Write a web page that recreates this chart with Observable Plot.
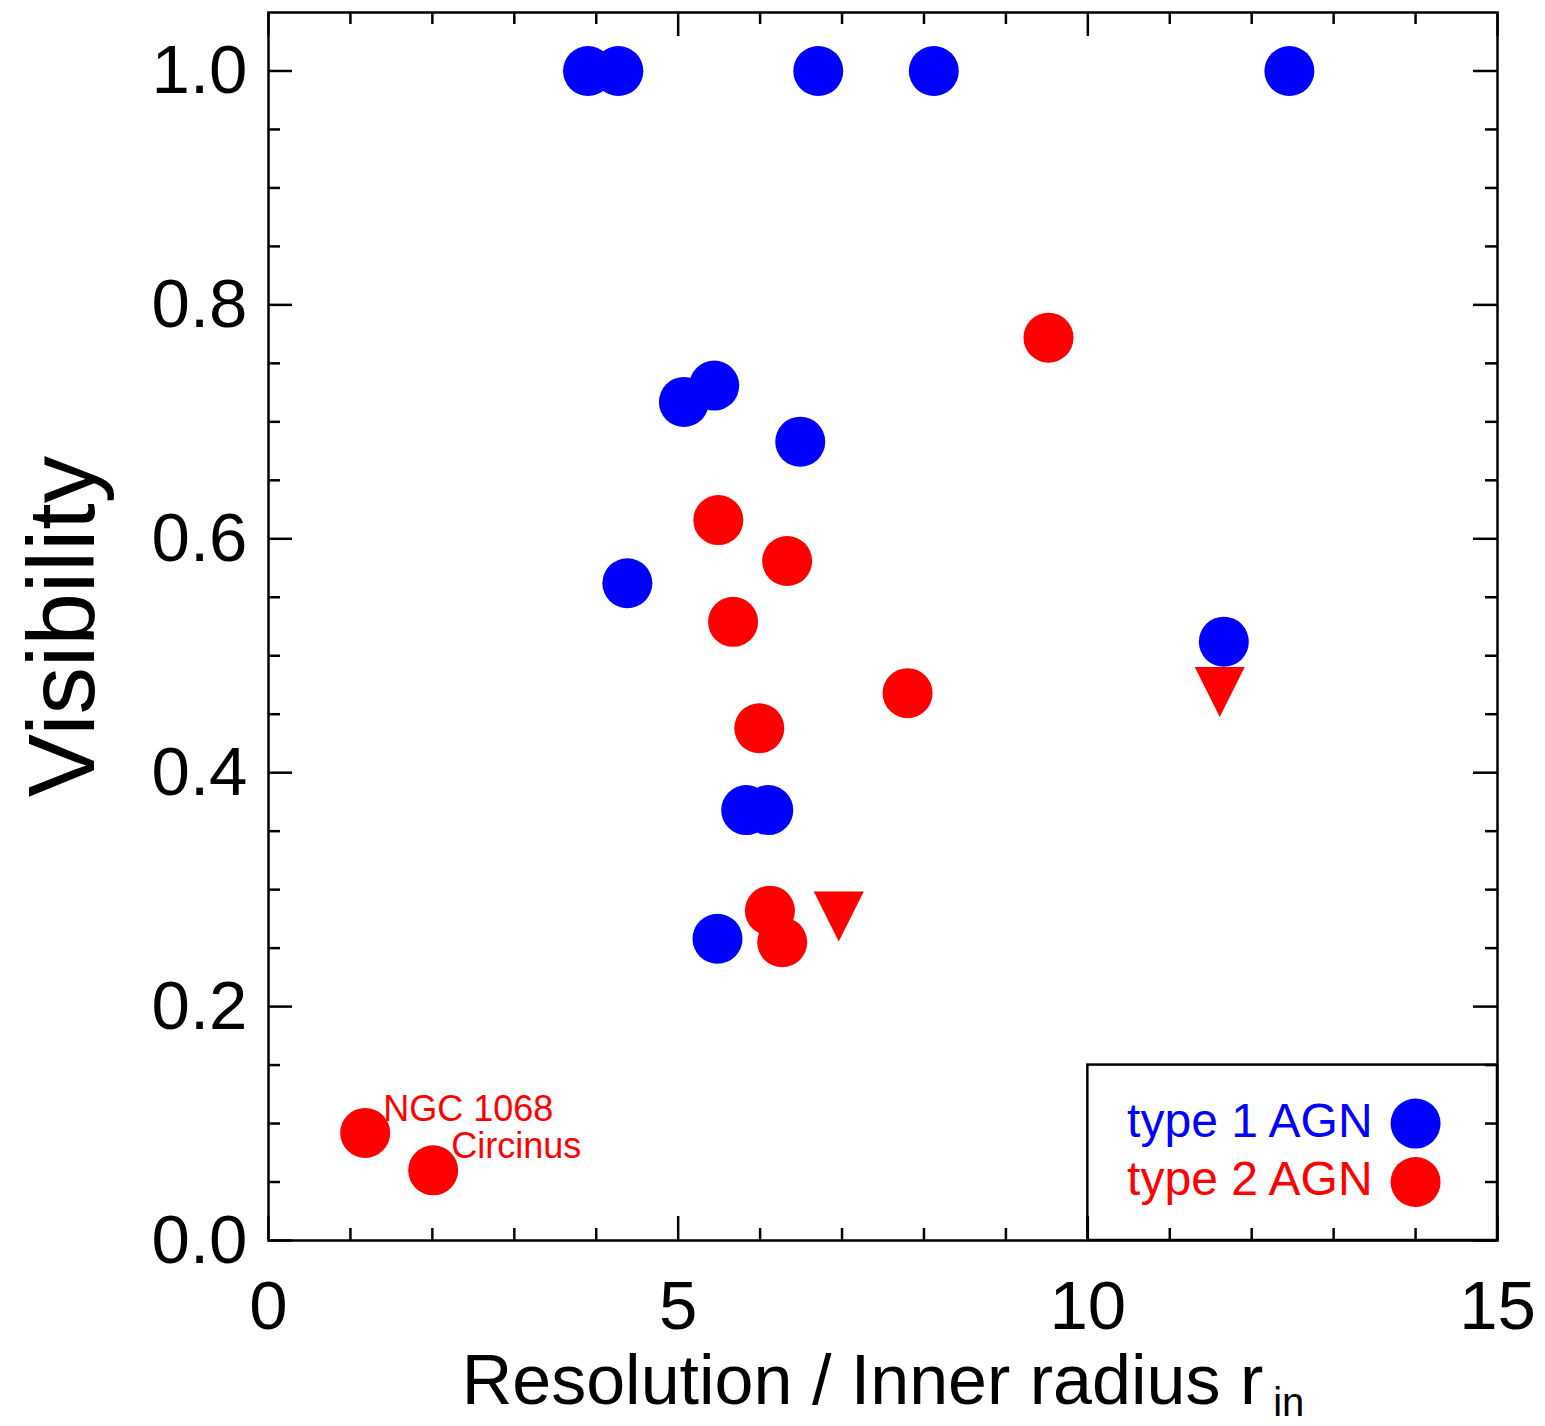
<!DOCTYPE html>
<html>
<head>
<meta charset="utf-8">
<script src="https://cdn.jsdelivr.net/npm/d3@7"></script>
<script src="https://cdn.jsdelivr.net/npm/@observablehq/plot@0.6"></script>
<style>
  html, body { margin: 0; padding: 0; background: #fff; }
</style>
</head>
<body>
<div id="chart"></div>
<script>
// ---- data ----
const type1X = [3.90, 4.27, 6.71, 8.12, 12.46, 5.44, 5.07, 6.49, 4.38, 11.66, 5.83, 6.10, 5.48];
const type1Y = [1.0, 1.0, 1.0, 1.0, 1.0, 0.731, 0.717, 0.683, 0.562, 0.512, 0.368, 0.368, 0.258];

const type2X = [9.52, 5.49, 6.33, 5.67, 7.80, 5.99, 6.12, 6.27, 1.18, 2.01];
const type2Y = [0.772, 0.616, 0.581, 0.529, 0.468, 0.438, 0.282, 0.255, 0.092, 0.060];
const type2Names = ["", "", "", "", "", "", "", "", "NGC 1068", "Circinus"];

// upper limits (type 2)
const limitX = [6.96, 11.61];
const limitY = [0.277, 0.469];

const xMajor = [0, 5, 10, 15];
const xMinor = [1, 2, 3, 4, 6, 7, 8, 9, 11, 12, 13, 14];
const yMajor = [0, 0.2, 0.4, 0.6, 0.8, 1.0];
const yMinor = [0.05, 0.1, 0.15, 0.25, 0.3, 0.35, 0.45, 0.5, 0.55, 0.65, 0.7, 0.75, 0.85, 0.9, 0.95];

const legendLabels = ["type 1 AGN", "type 2 AGN"];
const legendColors = ["#0000ff", "#ff0000"];
const legendY = [0.10, 0.05];
const legendX = 14;
const legendBox = {x1: 10, x2: 15, y1: 0, y2: 0.15};

const xTitle = "Resolution / Inner radius r";
const xTitleSub = "in";
const yTitle = "Visibility";

// ---- layout ----
const width = 1545, height = 1426;
const mL = 268, mR = 48, mT = 12, mB = 186;
const W = width - mL - mR, H = height - mT - mB;
const majorLen = 24, minorLen = 12, lw = 2.5;

const t1 = type1X.map((x, i) => ({x, y: type1Y[i]}));
const t2 = type2X.map((x, i) => ({x, y: type2Y[i], name: type2Names[i]}));
const lim = limitX.map((x, i) => ({x, y: limitY[i]}));
const leg = legendLabels.map((label, i) => ({label, color: legendColors[i], y: legendY[i], x: legendX}));

const downTriangle = {
  draw(context, size) {
    const r = Math.sqrt(size / Math.PI);
    context.moveTo(-r, -r);
    context.lineTo(r, -r);
    context.lineTo(0, r);
    context.closePath();
  }
};

const tickMarks = [
  // bottom
  Plot.ruleX(xMajor, {x: d => d, insetTop: H - majorLen, strokeWidth: lw}),
  Plot.ruleX(xMinor, {x: d => d, insetTop: H - minorLen, strokeWidth: lw}),
  // top
  Plot.ruleX(xMajor, {x: d => d, insetBottom: H - majorLen, strokeWidth: lw}),
  Plot.ruleX(xMinor, {x: d => d, insetBottom: H - minorLen, strokeWidth: lw}),
  // left
  Plot.ruleY(yMajor, {y: d => d, insetRight: W - majorLen, strokeWidth: lw}),
  Plot.ruleY(yMinor, {y: d => d, insetRight: W - minorLen, strokeWidth: lw}),
  // right
  Plot.ruleY(yMajor, {y: d => d, insetLeft: W - majorLen, strokeWidth: lw}),
  Plot.ruleY(yMinor, {y: d => d, insetLeft: W - minorLen, strokeWidth: lw})
];

const chart = Plot.plot({
  width, height,
  marginLeft: mL, marginRight: mR, marginTop: mT, marginBottom: mB,
  style: {fontFamily: "'Liberation Sans', Arial, Helvetica, sans-serif", fontSize: "69px", background: "#fff", color: "#000"},
  x: {domain: [0, 15], ticks: xMajor, tickSize: 0, tickPadding: 39, tickFormat: d => String(d), label: null},
  y: {domain: [0, 1.05], ticks: yMajor, tickSize: 0, tickPadding: 21, tickFormat: d3.format(".1f"), label: null},
  marks: [
    ...tickMarks,
    Plot.frame({stroke: "#000", strokeWidth: lw}),
    Plot.rect([legendBox], {x1: "x1", x2: "x2", y1: "y1", y2: "y2", fill: "none", stroke: "#000", strokeWidth: lw}),
    Plot.dot(t1, {x: "x", y: "y", r: 25, fill: "#0000ff", stroke: "none"}),
    Plot.dot(t2, {x: "x", y: "y", r: 25, fill: "#ff0000", stroke: "none"}),
    Plot.dot(lim, {x: "x", y: "y", r: 25, symbol: downTriangle, fill: "#ff0000", stroke: "none"}),
    Plot.text(t2.filter(d => d.name), {x: "x", y: "y", text: "name", fill: "#ff0000", fontSize: 36, textAnchor: "start", lineAnchor: "bottom", dx: 18, dy: -12}),
    // legend
    Plot.dot(leg, {x: "x", y: "y", r: 25, fill: "color", stroke: "none"}),
    Plot.text(leg, {x: "x", y: "y", text: "label", fill: "color", fontSize: 48, textAnchor: "end", lineAnchor: "bottom", dx: -43, dy: 13}),
    // axis titles
    Plot.text([xTitle], {frameAnchor: "bottom", text: d => d, fontSize: 70, textAnchor: "middle", lineAnchor: "bottom", dy: 163, fill: "#000"}),
    Plot.text([yTitle], {frameAnchor: "left", text: d => d, fontSize: 95, rotate: -90, textAnchor: "middle", lineAnchor: "bottom", dx: -175, fill: "#000"})
  ]
});

// subscript on the x-axis title
d3.select(chart).selectAll("text").filter(function() { return this.textContent === xTitle; })
  .append("tspan").attr("dx", 10).attr("dy", 12).attr("font-size", 40).text(xTitleSub);

document.getElementById("chart").appendChild(chart);
</script>
</body>
</html>
